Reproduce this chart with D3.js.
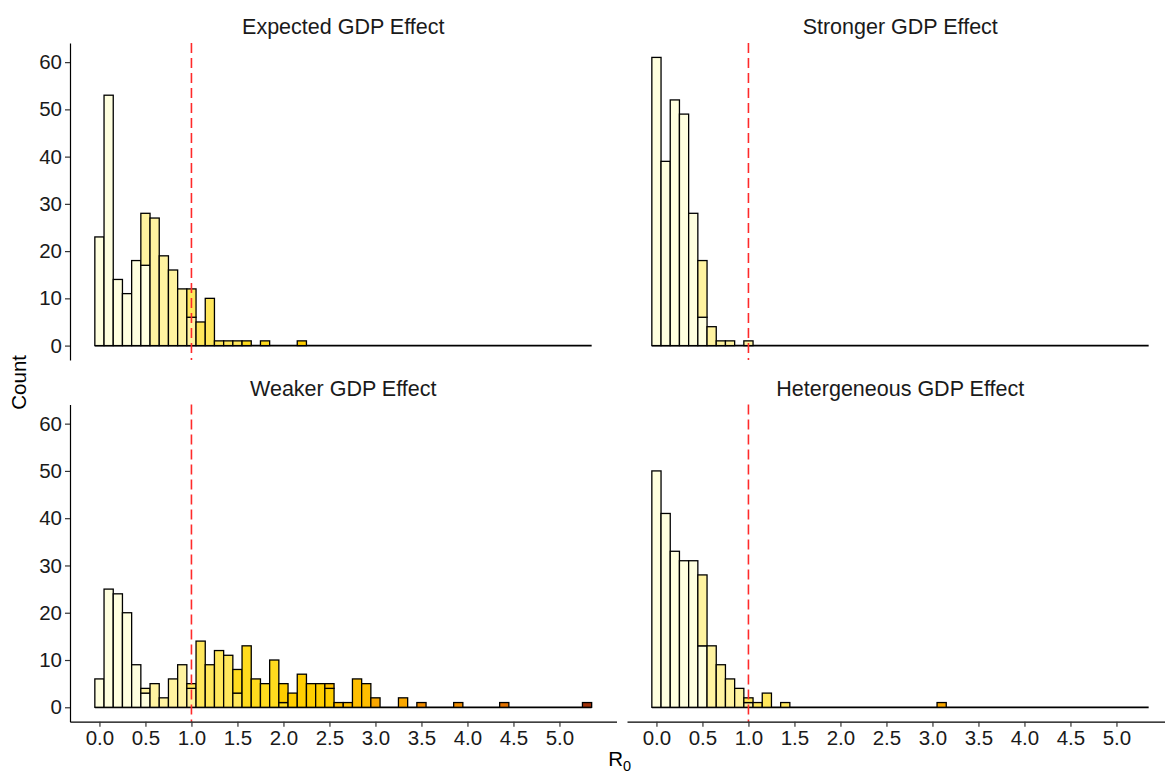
<!DOCTYPE html>
<html>
<head>
<meta charset="utf-8">
<script src="https://cdn.jsdelivr.net/npm/d3@7"></script>
<style>
  html, body { margin: 0; padding: 0; background: #ffffff; }
  svg { display: block; }
  text { font-family: "Liberation Sans", Arial, Helvetica, sans-serif; }
</style>
</head>
<body>
<svg id="chart" width="1165" height="774"></svg>
<script>
// ---------------- DATA ----------------
const panelTitles = ["Expected GDP Effect", "Stronger GDP Effect", "Weaker GDP Effect", "Hetergeneous GDP Effect"];

// histogram bin centres (R0), bin width 0.1
const binCenters = [0.0,0.1,0.2,0.3,0.4,0.5,0.6,0.7,0.8,0.9,1.0,1.1,1.2,1.3,1.4,1.5,1.6,1.7,1.8,1.9,
  2.0,2.1,2.2,2.3,2.4,2.5,2.6,2.7,2.8,2.9,3.0,3.1,3.2,3.3,3.4,3.5,3.6,3.7,3.8,3.9,
  4.0,4.1,4.2,4.3,4.4,4.5,4.6,4.7,4.8,4.9,5.0,5.1,5.2,5.3];
const binWidth = 0.1;

// counts per bin, one array per scenario
const expectedCounts = [23,53,14,11,18,28,27,19,16,12,12,5,10,1,1,1,1,0,1,0,
  0,0,1,0,0,0,0,0,0,0,0,0,0,0,0,0,0,0,0,0,
  0,0,0,0,0,0,0,0,0,0,0,0,0,0];
const strongerCounts = [61,39,52,49,28,18,4,1,1,0,1,0,0,0,0,0,0,0,0,0,
  0,0,0,0,0,0,0,0,0,0,0,0,0,0,0,0,0,0,0,0,
  0,0,0,0,0,0,0,0,0,0,0,0,0,0];
const weakerCounts = [6,25,24,20,9,4,5,2,6,9,5,14,9,12,11,8,13,6,5,10,
  5,3,7,5,5,5,1,1,6,5,2,0,0,2,0,1,0,0,0,1,
  0,0,0,0,1,0,0,0,0,0,0,0,0,1];
const heteroCounts = [50,41,33,31,31,28,13,9,6,4,2,1,3,0,1,0,0,0,0,0,
  0,0,0,0,0,0,0,0,0,0,0,1,0,0,0,0,0,0,0,0,
  0,0,0,0,0,0,0,0,0,0,0,0,0,0];

// bins lying on a fill-group boundary: [bin centre, count belonging to the lower group]
const expectedLower = [[0.5,17],[1.0,6],[1.5,1]];
const strongerLower = [[0.5,6],[1.0,1]];
const weakerLower   = [[0.5,3],[1.0,4],[1.5,3],[2.0,1],[2.5,4]];
const heteroLower   = [[0.5,13],[1.0,1]];

// fill groups: R0 in steps of 0.5
const groupStep = 0.5;
const groupColors = ["#FFFFDF","#FFF3A0","#FFE75C","#FFDB1E","#FFCE00","#FFBE00",
  "#F9A700","#F08C00","#E27200","#C65000","#A2320A"];

const xTicks = [0.0,0.5,1.0,1.5,2.0,2.5,3.0,3.5,4.0,4.5,5.0];
const yTicks = [0,10,20,30,40,50,60];
const refLine = 1;

// ---------------- LAYOUT ----------------
const svg = d3.select("#chart");
const colX = [[70, 616.5], [627, 1173.5]];
const rowY = [[43, 360], [404.5, 721.7]];
const xDomain = [-0.32, 5.62];
const yDomain = [-3.05, 64.05];
const tickFont = 20.5;
const stripFont = 21.5;

const panels = [
  {title: panelTitles[0], counts: expectedCounts, lower: expectedLower, col: 0, row: 0},
  {title: panelTitles[1], counts: strongerCounts, lower: strongerLower, col: 1, row: 0},
  {title: panelTitles[2], counts: weakerCounts,   lower: weakerLower,   col: 0, row: 1},
  {title: panelTitles[3], counts: heteroCounts,   lower: heteroLower,   col: 1, row: 1}
];

panels.forEach(p => {
  const x = d3.scaleLinear().domain(xDomain).range(colX[p.col]);
  const y = d3.scaleLinear().domain(yDomain).range([rowY[p.row][1], rowY[p.row][0]]);
  const g = svg.append("g");

  // build stacked segments
  const lowerMap = new Map(p.lower.map(d => [d[0].toFixed(1), d[1]]));
  const segs = [];
  binCenters.forEach((c, i) => {
    const n = p.counts[i];
    if (n <= 0) return;
    const key = c.toFixed(1);
    const gi = Math.floor(c / groupStep + 1e-6);
    if (lowerMap.has(key)) {
      const lo = Math.min(lowerMap.get(key), n);
      if (lo > 0) segs.push({c, y0: 0, y1: lo, grp: gi - 1});
      if (n - lo > 0) segs.push({c, y0: lo, y1: n, grp: gi});
    } else {
      segs.push({c, y0: 0, y1: n, grp: gi});
    }
  });

  // baseline formed by empty bins
  g.append("line")
    .attr("x1", x(binCenters[0] - binWidth / 2))
    .attr("x2", x(binCenters[binCenters.length - 1] + binWidth / 2))
    .attr("y1", y(0)).attr("y2", y(0))
    .attr("stroke", "#000").attr("stroke-width", 1.8);

  g.selectAll("rect.bar").data(segs).enter().append("rect")
    .attr("class", "bar")
    .attr("x", d => x(d.c - binWidth / 2))
    .attr("width", d => x(d.c + binWidth / 2) - x(d.c - binWidth / 2))
    .attr("y", d => y(d.y1))
    .attr("height", d => y(d.y0) - y(d.y1))
    .attr("fill", d => groupColors[Math.max(0, Math.min(groupColors.length - 1, d.grp))])
    .attr("stroke", "#000")
    .attr("stroke-width", 1.3);

  // reference line at R0 = 1
  g.append("line")
    .attr("x1", x(refLine)).attr("x2", x(refLine))
    .attr("y1", rowY[p.row][0]).attr("y2", rowY[p.row][1])
    .attr("stroke", "#FF2A2A").attr("stroke-width", 1.6)
    .attr("stroke-dasharray", "10,5");

  // facet title
  svg.append("text")
    .attr("x", (colX[p.col][0] + colX[p.col][1]) / 2)
    .attr("y", rowY[p.row][0] - 9)
    .attr("text-anchor", "middle")
    .attr("font-size", stripFont)
    .attr("fill", "#1a1a1a")
    .text(p.title);

  // axes
  if (p.col === 0) {
    const ay = svg.append("g")
      .attr("transform", `translate(${colX[0][0]},0)`)
      .call(d3.axisLeft(y).tickValues(yTicks).tickSize(5).tickSizeOuter(0).tickPadding(3));
    styleAxis(ay);
  }
  if (p.row === 1) {
    const ax = svg.append("g")
      .attr("transform", `translate(0,${rowY[1][1]})`)
      .call(d3.axisBottom(x).tickValues(xTicks).tickFormat(d3.format(".1f")).tickSize(5).tickSizeOuter(0).tickPadding(4));
    styleAxis(ax);
  }
});

function styleAxis(a) {
  a.select(".domain").attr("stroke", "#000").attr("stroke-width", 1.2);
  a.selectAll(".tick line").attr("stroke", "#333").attr("stroke-width", 1.2);
  a.selectAll(".tick text").attr("font-size", tickFont).attr("fill", "#1a1a1a")
    .attr("font-family", '"Liberation Sans", Arial, sans-serif');
}

// axis titles
svg.append("text")
  .attr("transform", `translate(26,${(rowY[0][0] + rowY[1][1]) / 2}) rotate(-90)`)
  .attr("text-anchor", "middle")
  .attr("font-size", 20.5)
  .attr("fill", "#000")
  .text("Count");

const xt = svg.append("text")
  .attr("x", (colX[0][0] + colX[1][1]) / 2 - 2)
  .attr("y", 766)
  .attr("text-anchor", "middle")
  .attr("font-size", 20.5)
  .attr("fill", "#000");
xt.append("tspan").text("R");
xt.append("tspan").attr("font-size", 14.5).attr("dy", 5).text("0");
</script>
</body>
</html>
